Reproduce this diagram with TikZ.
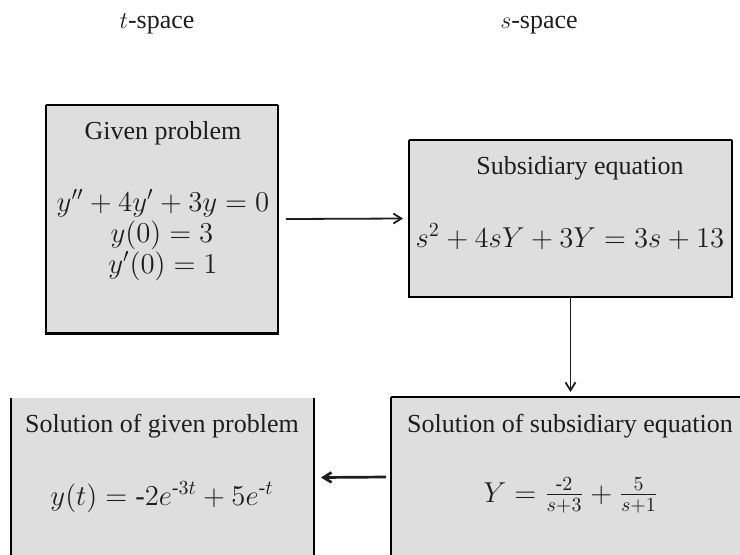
\documentclass[tikz,border=0pt]{standalone}
\usepackage{amsmath}
\usepackage[no-math]{fontspec}
\setmainfont{Liberation Serif}
\usetikzlibrary{arrows.meta}
\definecolor{boxgray}{RGB}{222,222,222}
\definecolor{inkc}{RGB}{30,30,30}
\tikzset{
  box/.style={fill=boxgray, draw=none, inner sep=0pt, outer sep=0pt},
  title/.style={font=\fontsize{13}{15}\selectfont, anchor=base, inner sep=0pt, text=inkc},
  eqn/.style={font=\fontsize{14.2}{16}\selectfont, anchor=base, inner sep=0pt, text=inkc},
  thin border/.style={draw=black, line width=0.55pt},
  thick border/.style={draw=black, line width=1.1pt},
  heavy border/.style={draw=black, line width=1.5pt},
  flow/.style={draw=inkc, line width=0.9pt, -{Straight Barb[length=4pt,width=5pt]}},
  flowheavy/.style={draw=inkc, line width=1.35pt, -{Straight Barb[length=4pt,width=5pt]}}
}
\newcommand{\hy}{\text{-}}
\begin{document}
\begin{tikzpicture}[x=0.5pt,y=-0.5pt]
\useasboundingbox (0,0) rectangle (740,554);
\clip (0,0) rectangle (740,554);
% column labels
\node[title] (tlab) at (157,28) {$t$-space};
\node[title] (slab) at (539,28) {$s$-space};
% boxes
\node[box, minimum width=116pt, minimum height=114pt] (g1) at (162,219) {};
\node[box, minimum width=161.5pt, minimum height=78.5pt] (g2) at (570.5,218.5) {};
\node[box, minimum width=179.5pt, minimum height=80pt] (g3) at (570.5,477) {};
\node[box, minimum width=151.5pt, minimum height=79.5pt] (g4) at (162.5,477.5) {};
% borders
\draw[thin border] (g1.north west) -- (g1.north east);
\draw[thick border] (g1.north west) -- (g1.south west);
\draw[thick border] (g1.north east) -- (g1.south east);
\draw[heavy border] ([xshift=-0.5pt]g1.south west) -- ([xshift=0.5pt]g1.south east);
\draw[thin border] (g2.north west) -- (g2.north east);
\draw[thin border] (g2.north west) -- (g2.south west);
\draw[thick border] (g2.north east) -- (g2.south east);
\draw[thick border] ([xshift=-0.3pt]g2.south west) -- ([xshift=0.5pt]g2.south east);
\draw[thin border] (g3.north west) -- (g3.north east);
\draw[thin border] (g3.north west) -- (g3.south west);
\draw[thin border] (g4.north west) -- (g4.south west);
\draw[thick border] (g4.north east) -- (g4.south east);
% texts
\node[title] (t1) at (163,139) {Given problem};
\node[eqn] (e1a) at (163,211) {$y'' + 4y' + 3y = 0$};
\node[eqn] (e1b) at (162,242) {$y(0) = 3$};
\node[eqn] (e1c) at (163,273) {$y'(0) = 1$};
\node[title] (t2) at (580,174) {Subsidiary equation};
\node[eqn] (e2) at (570,247) {$s^2 + 4sY + 3Y = 3s + 13$};
\node[title] (t3) at (570,432) {Solution of subsidiary equation};
\node[eqn] (e3) at (571,502) {$Y = \frac{\hy 2}{s+3} + \frac{5}{s+1}$};
\node[title] (t4) at (162,432) {Solution of given problem};
\node[eqn] (e4) at (162,505) {$y(t) = \hy 2e^{\hy 3t} + 5e^{\hy t}$};
% connectors
\draw[flow] ([xshift=4pt]g1.east) -- ([xshift=-3pt]g2.west);
\draw[flow] (g2.south) -- ([yshift=2.5pt]g3.north);
\draw[flowheavy] ([xshift=-2.5pt]g3.west) -- ([xshift=3.5pt]g4.east);
\end{tikzpicture}
\end{document}
